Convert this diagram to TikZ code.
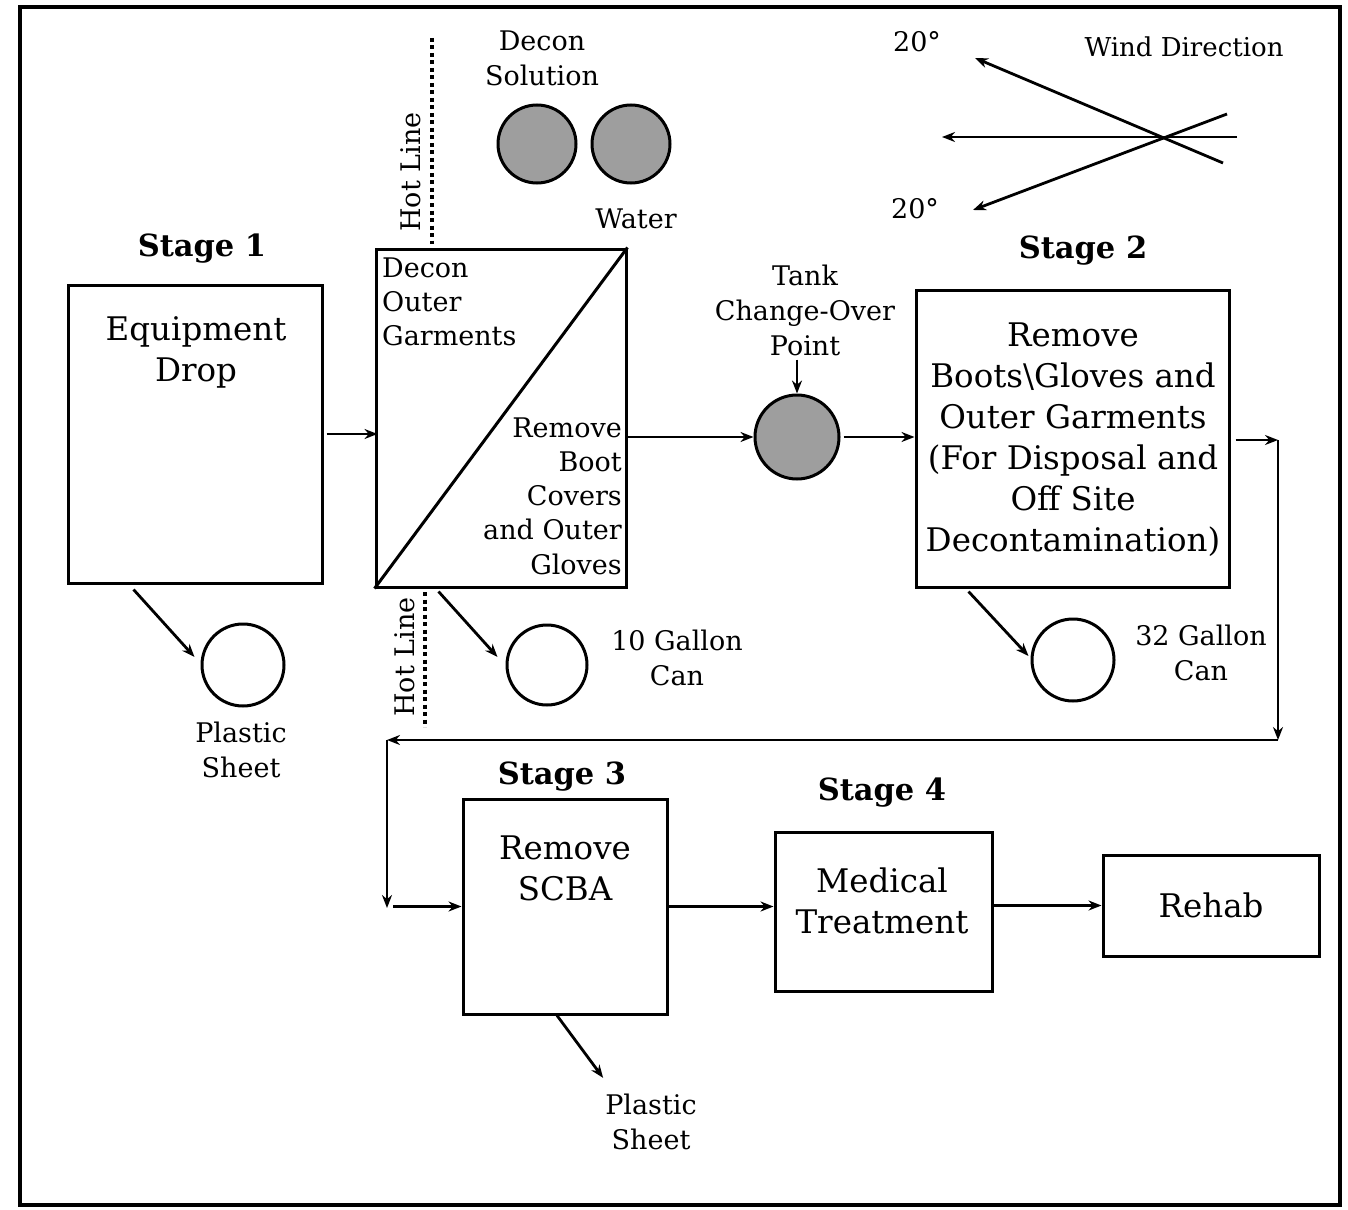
\documentclass[tikz,border=0pt]{standalone}
\usepackage{fontspec}
\setmainfont{DejaVu Serif}
\usetikzlibrary{arrows.meta,calc}
\begin{document}
\begin{tikzpicture}[x=1pt,y=-1pt,
  box/.style={draw, line width=3pt, rectangle, inner sep=0pt},
  can/.style={draw, circle, line width=3pt, inner sep=0pt, minimum size=82pt},
  tankc/.style={can, fill=black!38},
  arr/.style={line width=2.8pt, -{Stealth[length=13pt,width=10pt]}},
  big/.style={font=\fontsize{32.5}{41}\selectfont, align=center, inner sep=0pt},
  small/.style={font=\fontsize{27}{35}\selectfont, align=center, inner sep=0pt},
  stagelbl/.style={font=\fontsize{30.5}{34}\selectfont\bfseries, inner sep=0pt},
  hot/.style={line width=4pt, dash pattern=on 4pt off 3.5pt}]
\useasboundingbox (0,0) rectangle (1348,1209);
\draw[line width=3.5pt] (20,7) rectangle (1340,1205);

% Stage 1
\node[stagelbl] (st1) at (202,249) {Stage 1};
\node[box, minimum width=254pt, minimum height=298pt] (s1) at (195,434) {};
\node[big] (t1) at (196,352) {Equipment\\Drop};

% Decon box
\node[box, minimum width=250pt, minimum height=338pt] (dec) at (501,418) {};
\draw[line width=3pt] (dec.south west) -- (dec.north east);
\node[small, font=\fontsize{27}{34}\selectfont, align=left, anchor=west] (dtl) at (382,302) {Decon\\Outer\\Garments};
\node[small, font=\fontsize{27}{34.3}\selectfont, align=right, anchor=east] (dbr) at (622,496) {Remove\\Boot\\Covers\\and Outer\\Gloves};

% hot lines
\coordinate (h1a) at (432,38);
\coordinate (h1b) at (432,244);
\draw[hot] (h1a) -- (h1b);
\node[small, rotate=90] (hl1) at (411,172) {Hot Line};
\coordinate (h2a) at (425,592);
\coordinate (h2b) at (425,727);
\draw[hot] (h2a) -- (h2b);
\node[small, rotate=90] (hl2) at (405,657) {Hot Line};

% decon solution and water
\node[small] (dst) at (542,58) {Decon\\Solution};
\node[tankc, minimum size=78pt] (sol) at (537,144) {};
\node[tankc, minimum size=78pt] (wat) at (631,144) {};
\node[small] (wt) at (636,219) {Water};

% wind direction
\node[small, font=\fontsize{26}{30}\selectfont] (wd) at (1184,47) {Wind Direction};
\node[small] (d1) at (917,42) {20°};
\node[small] (d2) at (915,209) {20°};
\coordinate (wa1) at (1237,137);
\coordinate (wb1) at (942,137);
\coordinate (wa2) at (1223,163);
\coordinate (wb2) at (975,58);
\coordinate (wa3) at (1227,114);
\coordinate (wb3) at (973,210);
\draw[arr] (wa1) -- (wb1);
\draw[arr] (wa2) -- (wb2);
\draw[arr] (wa3) -- (wb3);

% tank
\node[small] (tt) at (805,310) {Tank\\Change-Over\\Point};
\node[tankc, minimum size=84pt] (tank) at (797,437) {};
\draw[arr] ($(tank.north)+(0,-34)$) -- (tank.north);

% Stage 2
\node[stagelbl] (st2) at (1083,251) {Stage 2};
\node[box, minimum width=313pt, minimum height=297pt] (s2) at (1072.5,438.5) {};
\node[big] (t2) at (1073,440) {Remove\\Boots\textbackslash Gloves and\\Outer Garments\\(For Disposal and\\Off Site\\Decontamination)};

% cans
\node[can] (p1) at (243,665) {};
\node[small] (p1t) at (241,750) {Plastic\\Sheet};
\node[can, minimum size=80pt] (c10) at (547,665) {};
\node[small] (c10t) at (677,658) {10 Gallon\\Can};
\node[can] (c32) at (1073,660) {};
\node[small] (c32t) at (1201,653) {32 Gallon\\Can};

% Stage 3, 4, rehab
\node[stagelbl] (st3) at (562,777) {Stage 3};
\node[box, minimum width=204pt, minimum height=215pt] (s3) at (565,906.5) {};
\node[big] (t3) at (565,868) {Remove\\SCBA};
\node[small] (p2t) at (651,1122) {Plastic\\Sheet};
\node[stagelbl] (st4) at (882,793) {Stage 4};
\node[box, minimum width=217pt, minimum height=159pt] (s4) at (883.5,911.5) {};
\node[big] (t4) at (882,901) {Medical\\Treatment};
\node[box, minimum width=216pt, minimum height=101pt] (rh) at (1211,905.5) {};
\node[big] (t5) at (1211,905) {Rehab};

% flow connectors
\draw[arr] ([xshift=3pt]s1.east) -- ([xshift=3pt]s1.east -| dec.west);
\draw[arr] (tank.west -| dec.east) -- (tank.west);
\draw[arr] ([xshift=3pt]tank.east) -- (tank.east -| s2.west);
\coordinate (c1) at (1278,440);
\coordinate (c2) at (1278,740);
\coordinate (c3) at (387,740);
\coordinate (c4) at (387,908);
\draw[arr] ([xshift=5pt]s2.east |- c1) -- (c1);
\draw[arr] (c1) -- (c2);
\draw[arr] (c2) -- (c3);
\draw[arr] (c3) -- (c4);
\draw[arr] ($(c4 |- s3.west)+(6,0)$) -- (s3.west);
\draw[arr] (s3.east) -- (s3.east -| s4.west);
\draw[arr] (rh.west -| s4.east) -- (rh.west);

% drops to cans
\draw[arr] ($(s1.south west)+(67,5)$) -- ($(p1.west)+(-6,-8)$);
\draw[arr] ($(dec.south west)+(64,3)$) -- ($(c10.west)+(-8,-8)$);
\draw[arr] ($(s2.south west)+(54,3)$) -- ($(c32.west)+(-2,-4)$);
\draw[arr] ($(s3.south)+(-8,0)$) -- ($(p2t.north west)+(-2,-16)$);
\end{tikzpicture}
\end{document}
